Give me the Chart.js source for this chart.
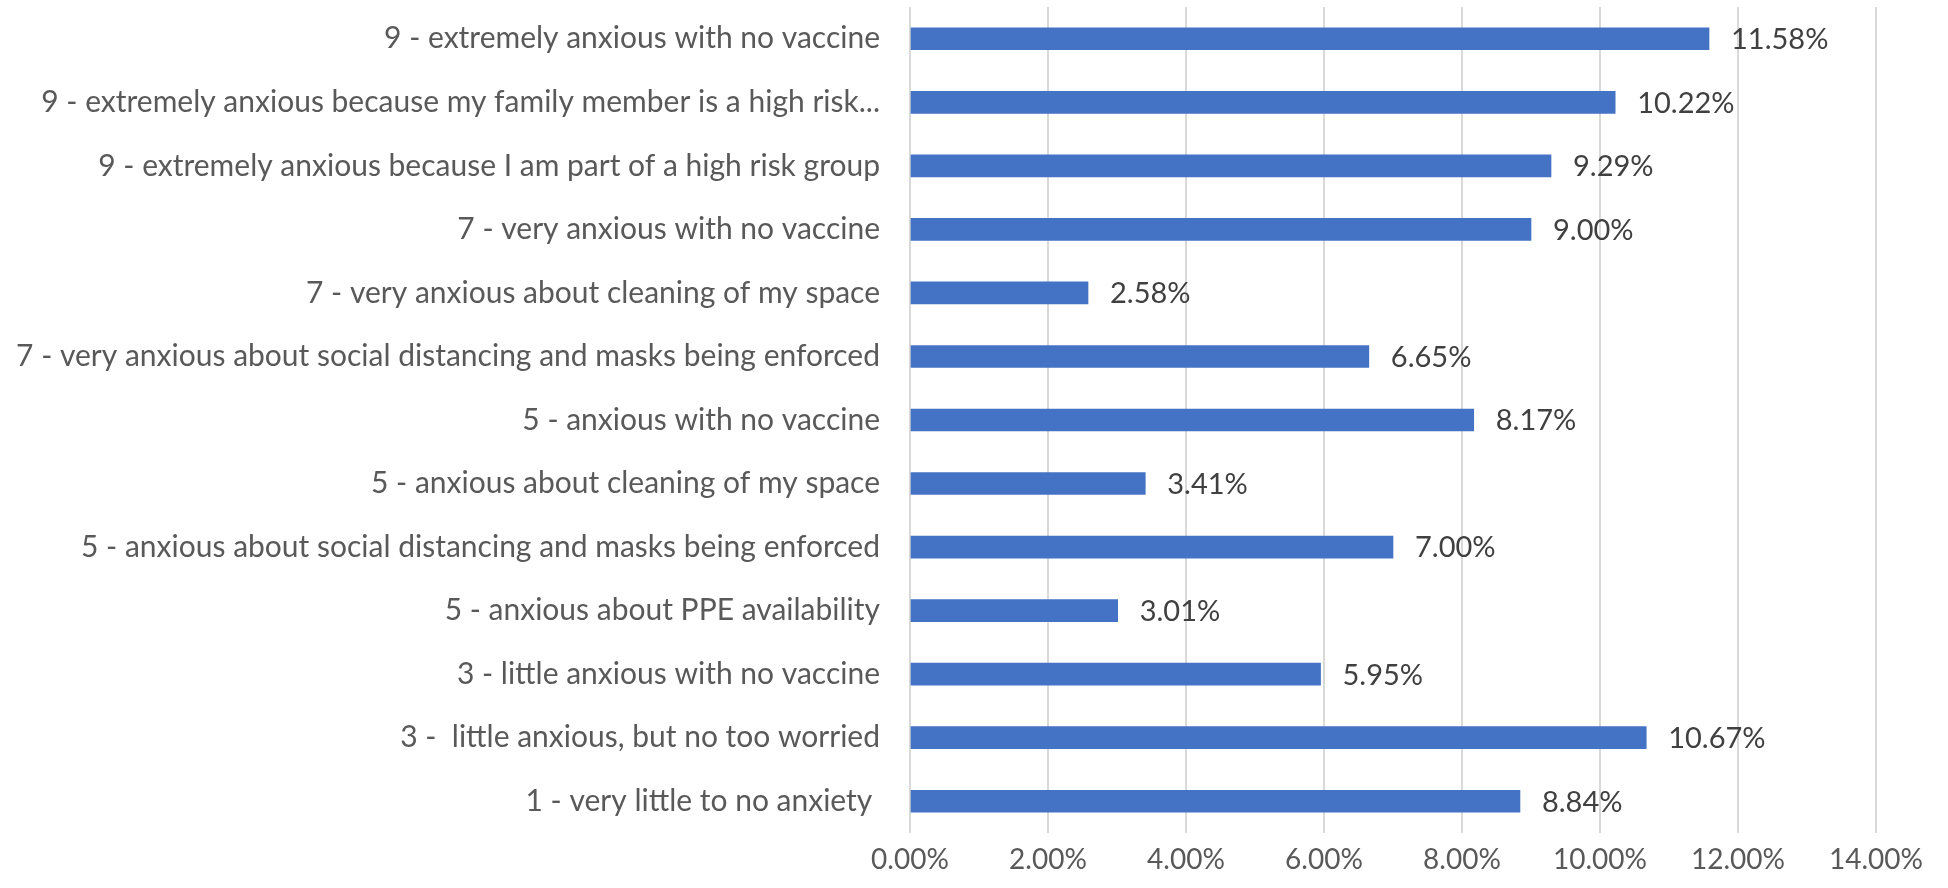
<!DOCTYPE html>
<html>
<head>
<meta charset="utf-8">
<script src="https://cdn.jsdelivr.net/npm/chart.js@4.4.1/dist/chart.umd.min.js"></script>
<style>
  html, body { margin: 0; padding: 0; background: #ffffff; }
  #wrap { width: 1948px; height: 888px; position: relative; }
</style>
</head>
<body>
<div id="wrap"><canvas id="c" width="1948" height="888"></canvas></div>
<script>
const categories = [
  "9 - extremely anxious with no vaccine",
  "9 - extremely anxious because my family member is a high risk...",
  "9 - extremely anxious because I am part of a high risk group",
  "7 - very anxious with no vaccine",
  "7 - very anxious about cleaning of my space",
  "7 - very anxious about social distancing and masks being enforced",
  "5 - anxious with no vaccine",
  "5 - anxious about cleaning of my space",
  "5 - anxious about social distancing and masks being enforced",
  "5 - anxious about PPE availability",
  "3 - little anxious with no vaccine",
  "3 -  little anxious, but no too worried",
  "1 - very little to no anxiety "
];
const values = [11.58, 10.22, 9.29, 9.00, 2.58, 6.65, 8.17, 3.41, 7.00, 3.01, 5.95, 10.67, 8.84];
const axisMin = 0;
const axisMax = 14;
const axisStep = 2;

const FONT = "Lato, 'Open Sans', sans-serif";

const dataLabelPlugin = {
  id: 'dataLabels',
  afterDatasetsDraw(chart) {
    const ctx = chart.ctx;
    const meta = chart.getDatasetMeta(0);
    ctx.save();
    ctx.font = "29px " + FONT;
    ctx.fillStyle = "#404040";
    ctx.textAlign = "left";
    ctx.textBaseline = "middle";
    meta.data.forEach((bar, i) => {
      ctx.fillText(values[i].toFixed(2) + "%", bar.x + 22, bar.y + 1);
    });
    ctx.restore();
  }
};

new Chart(document.getElementById('c'), {
  type: 'bar',
  data: {
    labels: categories,
    datasets: [{
      data: values,
      backgroundColor: '#4472C4',
      borderWidth: 0,
      barThickness: 22
    }]
  },
  options: {
    indexAxis: 'y',
    responsive: false,
    animation: false,
    layout: { padding: { top: 7, right: 72, bottom: 0, left: 0 } },
    plugins: { legend: { display: false }, tooltip: { enabled: false } },
    scales: {
      x: {
        min: axisMin,
        max: axisMax,
        ticks: {
          stepSize: axisStep,
          color: '#595959',
          font: { family: FONT, size: 28 },
          padding: 10,
          callback: v => Number(v).toFixed(2) + '%'
        },
        grid: { color: '#d9d9d9', lineWidth: 2, drawTicks: false },
        border: { display: false },
        afterFit: s => { s.height = 55; s.paddingLeft = 0; s.paddingRight = 0; }
      },
      y: {
        ticks: {
          color: '#595959',
          font: { family: FONT, size: 30 },
          padding: 30,
          autoSkip: false
        },
        grid: { display: false, drawTicks: false },
        border: { display: false },
        afterFit: s => { s.width = 910; s.paddingTop = 0; s.paddingBottom = 0; }
      }
    }
  },
  plugins: [dataLabelPlugin]
});
</script>
</body>
</html>
